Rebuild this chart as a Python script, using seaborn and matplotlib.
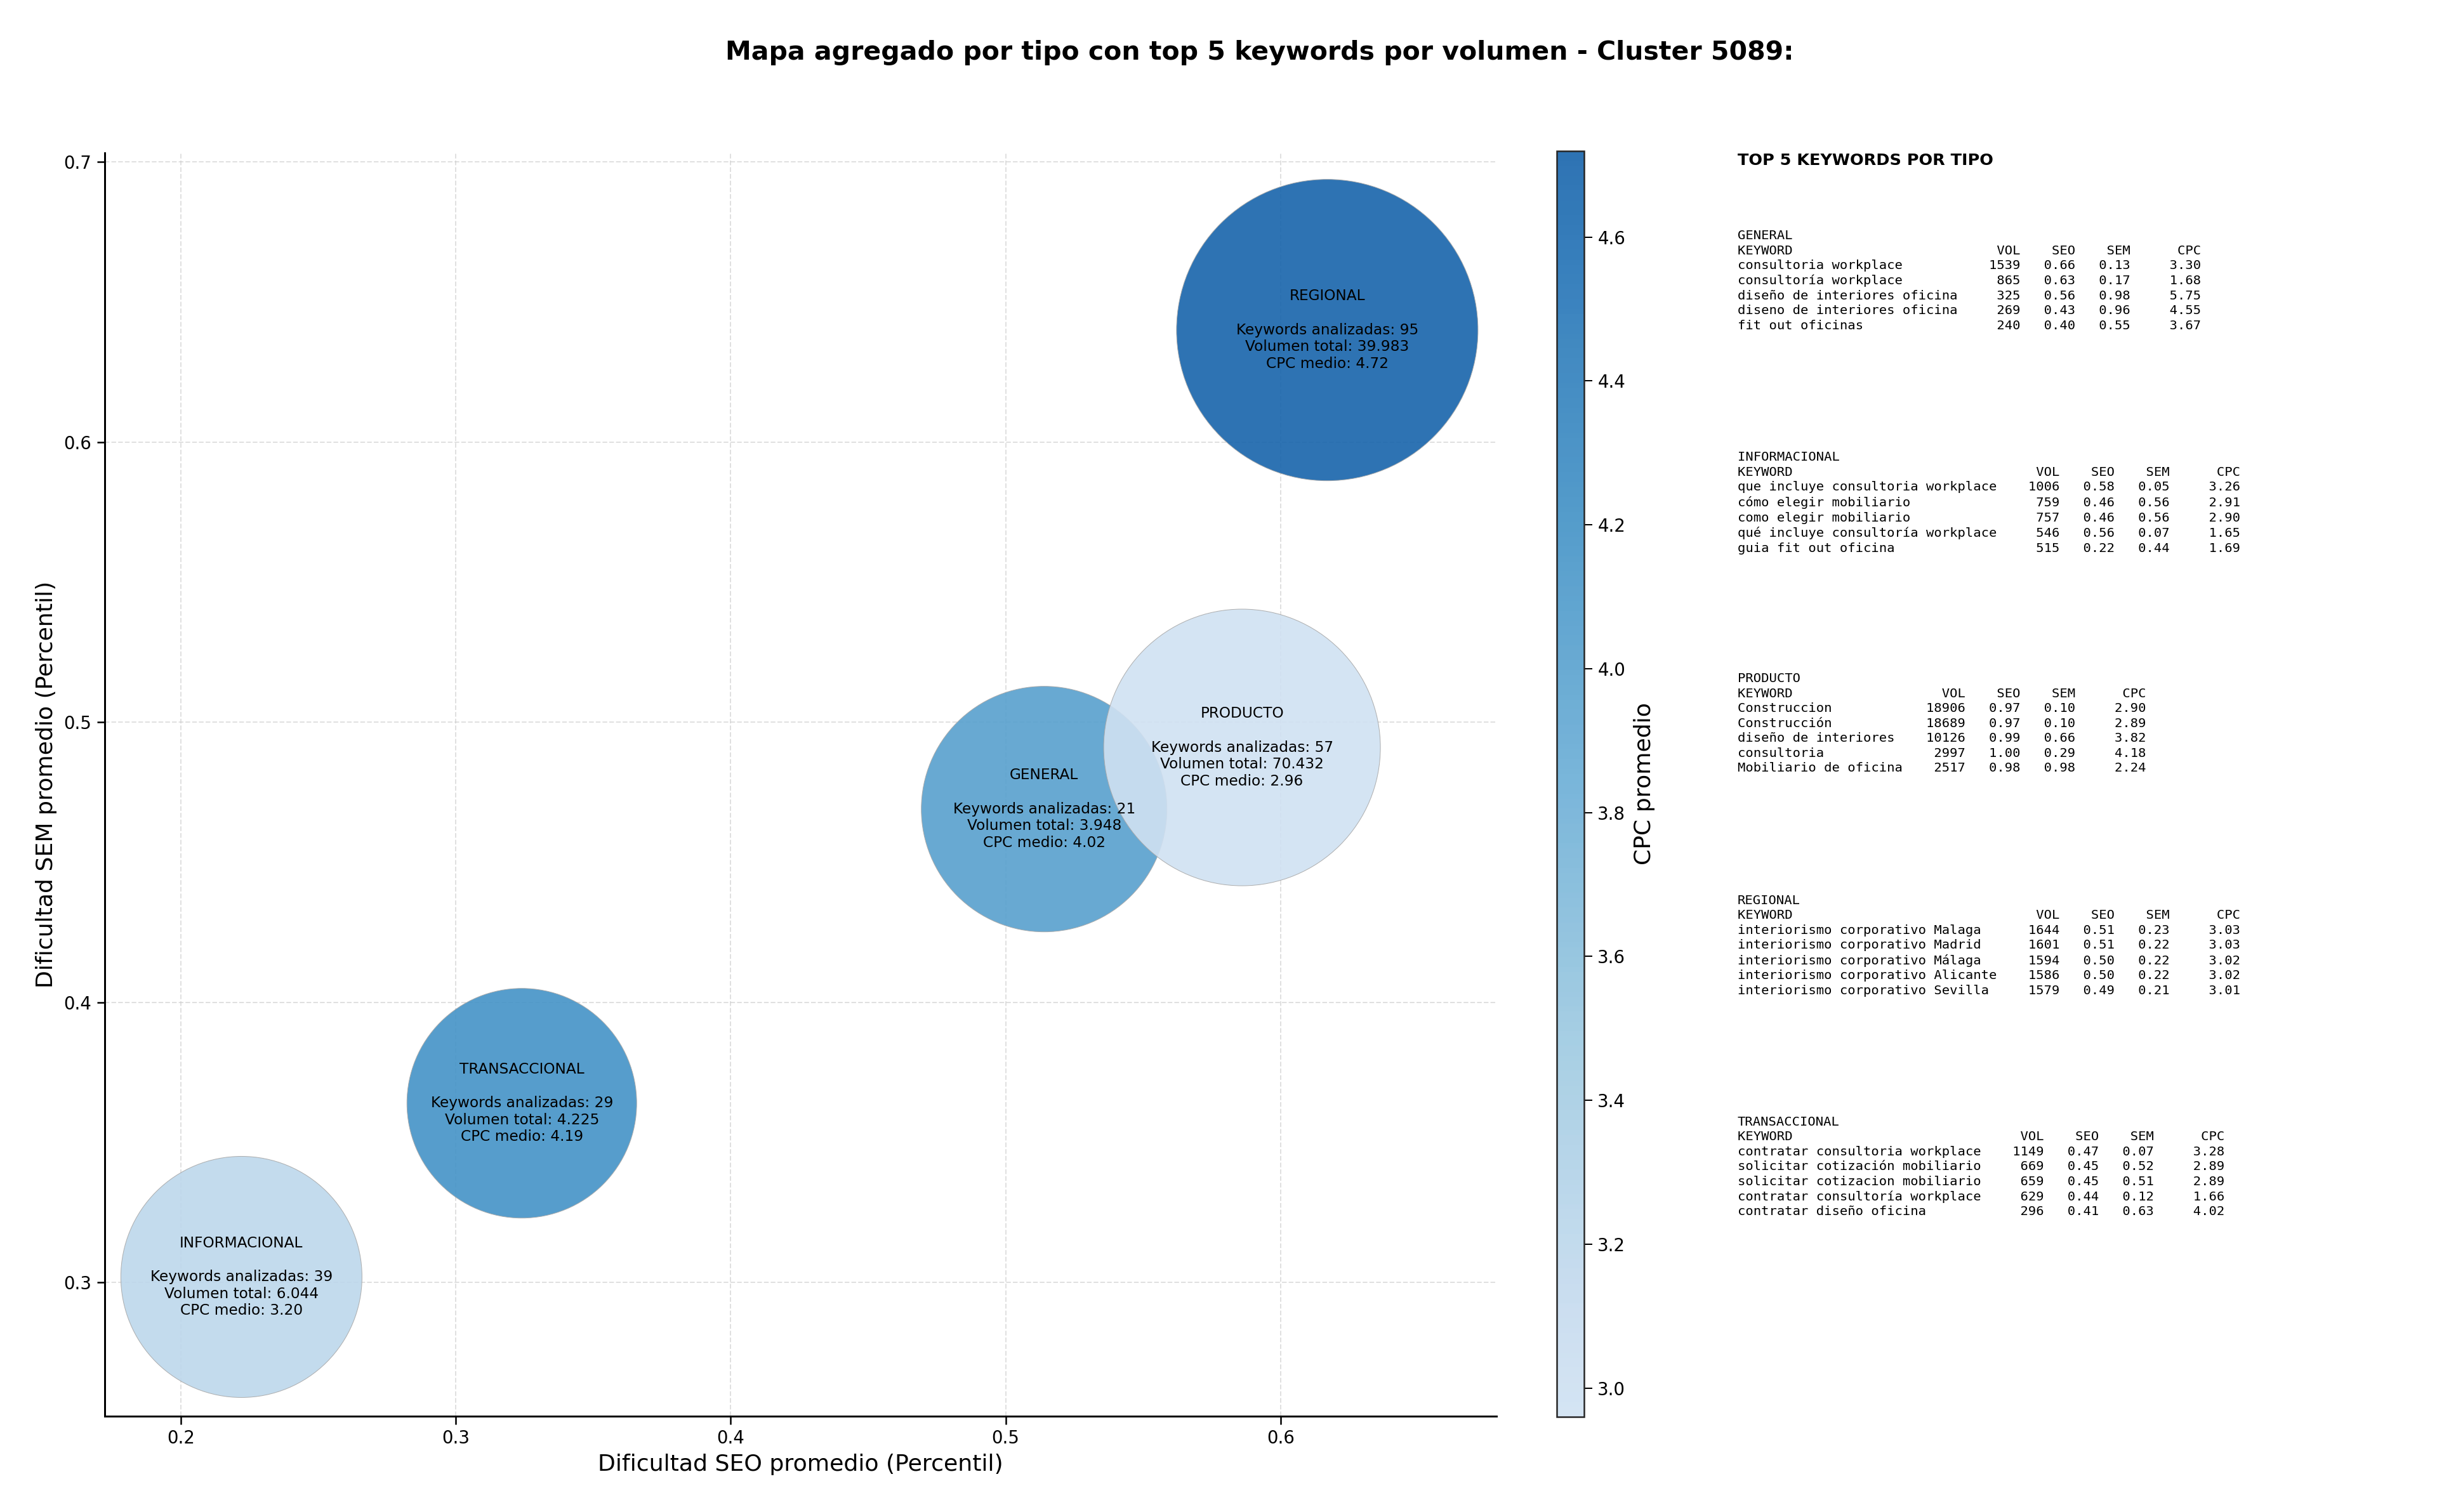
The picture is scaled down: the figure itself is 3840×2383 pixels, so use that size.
import numpy as np
import pandas as pd
import matplotlib
matplotlib.use("Agg")
import matplotlib.pyplot as plt
import matplotlib.colors as mcolors
import seaborn as sns

# ---------------- data ----------------
tipos = ["GENERAL", "INFORMACIONAL", "PRODUCTO", "REGIONAL", "TRANSACCIONAL"]
seo_prom = [0.514, 0.222, 0.586, 0.617, 0.324]
sem_prom = [0.469, 0.302, 0.491, 0.640, 0.364]
cpc_medio = [4.02, 3.20, 2.96, 4.72, 4.19]
n_keywords = [21, 39, 57, 95, 29]
vol_total = [3948, 6044, 70432, 39983, 4225]
bubble_size = [23963, 23104, 30415, 36100, 20967]

top_general_kw = ["consultoria workplace", "consultoría workplace", "diseño de interiores oficina",
                  "diseno de interiores oficina", "fit out oficinas"]
top_general_vol = [1539, 865, 325, 269, 240]
top_general_seo = [0.66, 0.63, 0.56, 0.43, 0.40]
top_general_sem = [0.13, 0.17, 0.98, 0.96, 0.55]
top_general_cpc = [3.30, 1.68, 5.75, 4.55, 3.67]

top_info_kw = ["que incluye consultoria workplace", "cómo elegir mobiliario", "como elegir mobiliario",
               "qué incluye consultoría workplace", "guia fit out oficina"]
top_info_vol = [1006, 759, 757, 546, 515]
top_info_seo = [0.58, 0.46, 0.46, 0.56, 0.22]
top_info_sem = [0.05, 0.56, 0.56, 0.07, 0.44]
top_info_cpc = [3.26, 2.91, 2.90, 1.65, 1.69]

top_prod_kw = ["Construccion", "Construcción", "diseño de interiores", "consultoria", "Mobiliario de oficina"]
top_prod_vol = [18906, 18689, 10126, 2997, 2517]
top_prod_seo = [0.97, 0.97, 0.99, 1.00, 0.98]
top_prod_sem = [0.10, 0.10, 0.66, 0.29, 0.98]
top_prod_cpc = [2.90, 2.89, 3.82, 4.18, 2.24]

top_reg_kw = ["interiorismo corporativo Malaga", "interiorismo corporativo Madrid",
              "interiorismo corporativo Málaga", "interiorismo corporativo Alicante",
              "interiorismo corporativo Sevilla"]
top_reg_vol = [1644, 1601, 1594, 1586, 1579]
top_reg_seo = [0.51, 0.51, 0.50, 0.50, 0.49]
top_reg_sem = [0.23, 0.22, 0.22, 0.22, 0.21]
top_reg_cpc = [3.03, 3.03, 3.02, 3.02, 3.01]

top_trans_kw = ["contratar consultoria workplace", "solicitar cotización mobiliario",
                "solicitar cotizacion mobiliario", "contratar consultoría workplace",
                "contratar diseño oficina"]
top_trans_vol = [1149, 669, 659, 629, 296]
top_trans_seo = [0.47, 0.45, 0.45, 0.44, 0.41]
top_trans_sem = [0.07, 0.52, 0.51, 0.12, 0.63]
top_trans_cpc = [3.28, 2.89, 2.89, 1.66, 4.02]

tops = [
    ("GENERAL", top_general_kw, top_general_vol, top_general_seo, top_general_sem, top_general_cpc),
    ("INFORMACIONAL", top_info_kw, top_info_vol, top_info_seo, top_info_sem, top_info_cpc),
    ("PRODUCTO", top_prod_kw, top_prod_vol, top_prod_seo, top_prod_sem, top_prod_cpc),
    ("REGIONAL", top_reg_kw, top_reg_vol, top_reg_seo, top_reg_sem, top_reg_cpc),
    ("TRANSACCIONAL", top_trans_kw, top_trans_vol, top_trans_seo, top_trans_sem, top_trans_cpc),
]

df = pd.DataFrame({"tipo": tipos, "seo": seo_prom, "sem": sem_prom, "cpc": cpc_medio,
                   "n": n_keywords, "vol": vol_total})

# ---------------- style ----------------
sns.set_style("white")
plt.rcParams["font.family"] = ["DejaVu Sans"]
plt.rcParams["text.color"] = "black"
plt.rcParams["axes.labelcolor"] = "black"
plt.rcParams["xtick.color"] = "black"
plt.rcParams["ytick.color"] = "black"

DPI = 180
fig = plt.figure(figsize=(3840 / DPI, 2383 / DPI), dpi=DPI)
ax = fig.add_axes([0.043, 0.0634, 0.571, 0.8356])
cax = fig.add_axes([0.6388, 0.0629, 0.0112, 0.8374])

ALPHA = 0.9
base = plt.get_cmap("Blues")
cmap = mcolors.LinearSegmentedColormap.from_list("blues_trunc", base(np.linspace(0.2, 0.8, 256)))
vmin, vmax = min(cpc_medio), max(cpc_medio)
norm = mcolors.Normalize(vmin=vmin, vmax=vmax)

sns.scatterplot(data=df, x="seo", y="sem", hue="cpc", palette=cmap, hue_norm=norm,
                size="tipo", sizes=dict(zip(tipos, bubble_size)), legend=False,
                alpha=ALPHA, edgecolor="#a8a8a8", linewidth=0.4, ax=ax, zorder=3)

for t, x, y, n, v, c in zip(tipos, seo_prom, sem_prom, n_keywords, vol_total, cpc_medio):
    vs = f"{v:,}".replace(",", ".")
    ax.text(x, y, f"{t}\n\nKeywords analizadas: {n}\nVolumen total: {vs}\nCPC medio: {c:.2f}",
            ha="center", va="center", fontsize=9.3, color="black", zorder=4)

ax.set_xlim(0.1723, 0.6785)
ax.set_ylim(0.2523, 0.7033)
ax.set_xticks([0.2, 0.3, 0.4, 0.5, 0.6])
ax.set_yticks([0.3, 0.4, 0.5, 0.6, 0.7])
ax.grid(True, linestyle="--", color="#cccccc", alpha=0.6, linewidth=0.8)
ax.set_axisbelow(True)
for s in ["top", "right"]:
    ax.spines[s].set_visible(False)
for s in ["left", "bottom"]:
    ax.spines[s].set_color("black")
    ax.spines[s].set_linewidth(1.2)
ax.tick_params(axis="both", which="major", labelsize=11, length=5, width=1, color="black",
               bottom=True, left=True, direction="out")
ax.set_xlabel("Dificultad SEO promedio (Percentil)", fontsize=14.5)
ax.set_ylabel("Dificultad SEM promedio (Percentil)", fontsize=14.5)

sm = plt.cm.ScalarMappable(norm=norm, cmap=cmap)
sm.set_array([])
cb = fig.colorbar(sm, cax=cax, alpha=ALPHA)
cb.set_label("CPC promedio", fontsize=14.5, labelpad=5)
cb.ax.tick_params(labelsize=11, length=5)
cb.outline.set_linewidth(1.0)

fig.text(0.517, 0.965, "Mapa agregado por tipo con top 5 keywords por volumen - Cluster 5089:",
         ha="center", va="center", fontsize=16.4, fontweight="bold")

fig.text(0.713, 0.894, "TOP 5 KEYWORDS POR TIPO", ha="left", va="center",
         fontsize=10.2, fontweight="bold")

y0 = 0.848
dy = 0.1465
for i, (name, kws, vols, seos, sems, cpcs) in enumerate(tops):
    w = max(len(k) for k in kws)
    lines = [name, f"{'KEYWORD':<{w}}{'VOL':>8}{'SEO':>7}{'SEM':>7}{'CPC':>9}"]
    for k, v, s1, s2, c in zip(kws, vols, seos, sems, cpcs):
        lines.append(f"{k:<{w}}{v:>8}{s1:>7.2f}{s2:>7.2f}{c:>9.2f}")
    fig.text(0.713, y0 - i * dy, "\n".join(lines), ha="left", va="top",
             fontsize=8.2, family="DejaVu Sans Mono", linespacing=1.3)

fig.savefig("out.png", dpi=DPI)
